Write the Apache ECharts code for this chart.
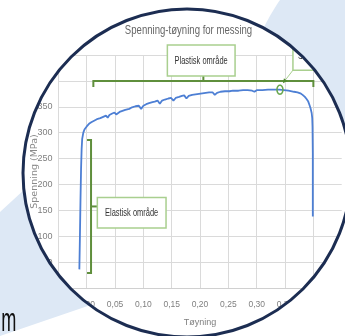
<!DOCTYPE html>
<html><head><meta charset="utf-8">
<script src="https://cdn.jsdelivr.net/npm/echarts@6.0.0/dist/echarts.min.js"></script>
<style>html,body{margin:0;padding:0;background:#fff}#c{width:345px;height:336px}</style>
</head><body><div id="c"></div>
<script>
// ---- data ----
const strain = [-0.013,-0.012,-0.011,-0.010,-0.009,-0.008,-0.006,-0.004,-0.002,0.000,0.004,0.008,0.013,0.018,0.024,0.030,0.034,0.037,0.040,0.045,0.049,0.052,0.058,0.063,0.068,0.071,0.075,0.080,0.086,0.092,0.096,0.100,0.105,0.110,0.116,0.120,0.125,0.129,0.133,0.138,0.144,0.149,0.153,0.157,0.163,0.168,0.172,0.176,0.180,0.186,0.192,0.198,0.204,0.210,0.216,0.222,0.226,0.230,0.236,0.244,0.252,0.258,0.262,0.268,0.276,0.284,0.292,0.296,0.300,0.310,0.320,0.330,0.340,0.348,0.356,0.366,0.372,0.377,0.381,0.385,0.388,0.391,0.393,0.395,0.397,0.398,0.3985,0.399,0.399,0.399];
const stress = [36,100,170,230,268,288,300,306,309,312,317,320,323,326,328,331,333,329,334,337,339,335,340,342,344,341,346,349,351,352,346,352,355,357,359,360,362,356,362,364,366,367,362,367,369,371,372,366,371,373,374,375,376,377,378,378,373,377,379,380,380,381,381,381,382,382,381,379,382,382,383,383,383,382,381,379,378,376,373,369,365,360,354,347,338,328,311,260,200,138];
const chartTitle = 'Spenning-tøyning for messing';
const xAxisName = 'Tøyning';
const yAxisName = 'Spenning (MPa)';
const xTickMin = -0.05, xTickMax = 0.45, xTickStep = 0.05;
const yTickMin = 0, yTickMax = 450, yTickStep = 50;
const plasticLabel = 'Plastisk område';
const elasticLabel = 'Elastisk område';
const peakLabel = 'Strekkfasthet';
const plasticRange = [0.0117, 0.40];
const plasticLevel = 400;
const elasticRange = [29, 286];
const elasticStrain = 0.0076;
const peakPoint = [0.341, 382];

// ---- styles ----
const SANS = '"Liberation Sans", Arial, sans-serif';
const GRID = '#dadada';
const LABEL = '#7f7f7f';
const BRACKET = '#5f8f3c';
const BOXLINE = '#a9cf8f';
const BLUEBG = '#dde8f5';
const NAVY = '#1c2d52';

const chart = echarts.init(document.getElementById('c'), null, {renderer: 'canvas'});
const pts = strain.map((s, i) => [s, stress[i]]);

chart.setOption({
  backgroundColor: '#fff',
  animation: false,
  grid: {left: 58.4, right: 3.3, top: 55, bottom: 48, containLabel: false, outerBoundsMode: 'none'},
  xAxis: {
    type: 'value', min: xTickMin, max: xTickMax, interval: xTickStep,
    name: xAxisName, nameLocation: 'middle', nameGap: 30, nameMoveOverlap: false,
    nameTextStyle: {fontFamily: SANS, fontSize: 9, color: LABEL},
    axisLine: {show: true, lineStyle: {color: '#d0d0d0', width: 1}},
    axisTick: {show: false},
    axisLabel: {fontFamily: SANS, fontSize: 8.5, color: LABEL, margin: 12,
      formatter: v => v.toFixed(2).replace('.', ',')},
    splitLine: {show: true, showMaxLine: false, lineStyle: {color: GRID, width: 1}}
  },
  yAxis: {
    type: 'value', min: yTickMin, max: yTickMax, interval: yTickStep,
    name: yAxisName, nameLocation: 'middle', nameGap: 19, nameMoveOverlap: false,
    nameTextStyle: {fontFamily: '"DejaVu Sans", sans-serif', fontSize: 9.5, color: '#8a8a8a'},
    axisLine: {show: false}, axisTick: {show: false},
    axisLabel: {fontFamily: SANS, fontSize: 9, color: LABEL, margin: 6},
    splitLine: {show: true, lineStyle: {color: GRID, width: 1}}
  },
  series: [{
    type: 'line', data: pts, showSymbol: false, symbol: 'none', smooth: false,
    lineStyle: {color: '#4d7fd4', width: 1.8}, z: 3
  }]
});

function px(x, y) { return chart.convertToPixel({gridIndex: 0}, [x, y]); }

const [pL, pY] = px(plasticRange[0], plasticLevel);
const [pR] = px(plasticRange[1], plasticLevel);
const pMid = (pL + pR) / 2;
const [eX, eTop] = px(elasticStrain, elasticRange[1]);
const [, eBot] = px(elasticStrain, elasticRange[0]);
const eMid = (eTop + eBot) / 2;
const [kX, kY] = px(peakPoint[0], peakPoint[1]);

// circle frame geometry (decoration)
const CX = 187, CY = 173, R = 164;
function arcPts(p1, p2, n) {
  let a1 = Math.atan2(p1[1] - CY, p1[0] - CX), a2 = Math.atan2(p2[1] - CY, p2[0] - CX);
  const out = [];
  for (let i = 0; i <= n; i++) {
    const a = a1 + (a2 - a1) * i / n;
    out.push([CX + R * Math.cos(a), CY + R * Math.sin(a)]);
  }
  return out;
}
function quadPts(p0, c, p1, n) {
  const out = [];
  for (let i = 0; i <= n; i++) {
    const t = i / n, u = 1 - t;
    out.push([u * u * p0[0] + 2 * u * t * c[0] + t * t * p1[0], u * u * p0[1] + 2 * u * t * c[1] + t * t * p1[1]]);
  }
  return out;
}
const blueTopRight = [[280, 0], [345, 0], ...arcPts([345, 129], [263.6, 28], 40), ...quadPts([263.6, 28], [271, 13], [280, 0], 10)];
const blueBottomLeft = [[0, 212], ...arcPts([23.9, 190], [90, 305.2], 40), [0, 336]];
const ellipsePts = [];
for (let i = 0; i < 28; i++) {
  const a = i / 28 * Math.PI * 2;
  ellipsePts.push([kX + 3 * Math.cos(a), kY - 0.5 + 4.5 * Math.sin(a)]);
}

// arrow from peak box to peak point
const tip = [kX + 3, kY - 7];
const tail = [kX + 13, kY - 20];
const dx = tip[0] - tail[0], dy = tip[1] - tail[1], dl = Math.hypot(dx, dy);
const ux = dx / dl, uy = dy / dl;
const bc = [tip[0] - 4.5 * ux, tip[1] - 4.5 * uy];
const arrowHead = [tip, [bc[0] - uy * 2.2, bc[1] + ux * 2.2], [bc[0] + uy * 2.2, bc[1] - ux * 2.2]];

function squeezedText(text, x, y, size, color, sx, align, z) {
  return {type: 'text', z: z || 12, x: x, y: y, scaleX: sx,
    style: {text: text, x: 0, y: 0, align: align || 'center', verticalAlign: 'middle',
      font: size + 'px ' + SANS, fill: color}};
}

chart.setOption({
  graphic: [
    // chart title
    squeezedText(chartTitle, 188.5, 30, 13.5, '#666', 0.71),
    // plastic bracket
    {type: 'polyline', z: 10, shape: {points: [[pL, pY + 6], [pL, pY], [pR, pY], [pR, pY + 6]]},
      style: {stroke: BRACKET, lineWidth: 2, fill: null}},
    {type: 'line', z: 10, shape: {x1: pMid, y1: pY, x2: pMid, y2: pY - 5}, style: {stroke: BRACKET, lineWidth: 2}},
    {type: 'rect', z: 11, shape: {x: pMid - 36, y: pY - 36, width: 67.7, height: 31},
      style: {fill: '#fff', stroke: BOXLINE, lineWidth: 1.5}},
    squeezedText(plasticLabel, pMid - 2.2, pY - 19.5, 11, '#333', 0.68),
    // elastic bracket
    {type: 'polyline', z: 10, shape: {points: [[eX - 4, eTop], [eX, eTop], [eX, eBot], [eX - 4, eBot]]},
      style: {stroke: BRACKET, lineWidth: 2, fill: null}},
    {type: 'line', z: 10, shape: {x1: eX, y1: eMid, x2: eX + 6.3, y2: eMid}, style: {stroke: BRACKET, lineWidth: 2}},
    {type: 'rect', z: 11, shape: {x: eX + 6.3, y: eMid - 9, width: 68.7, height: 30.6},
      style: {fill: '#fff', stroke: BOXLINE, lineWidth: 1.5}},
    squeezedText(elasticLabel, eX + 6.3 + 34.3, eMid + 6.5, 11, '#333', 0.68),
    // peak marker
    {type: 'polygon', z: 10, shape: {points: ellipsePts}, style: {stroke: '#6aa84f', lineWidth: 1.5, fill: null}},
    {type: 'line', z: 10, shape: {x1: tail[0], y1: tail[1], x2: bc[0], y2: bc[1]}, style: {stroke: BOXLINE, lineWidth: 1}},
    {type: 'polygon', z: 10, shape: {points: arrowHead}, style: {fill: '#4f8a2f'}},
    {type: 'rect', z: 11, shape: {x: tail[0], y: tail[1] - 31, width: 70, height: 31},
      style: {fill: '#fff', stroke: BOXLINE, lineWidth: 1.5}},
    squeezedText(peakLabel, tail[0] + 5, tail[1] - 14, 11, '#333', 0.68, 'left'),
    // white cover outside the circle
    {type: 'circle', z: 100, silent: true, shape: {cx: CX, cy: CY, r: R + 200},
      style: {fill: null, stroke: '#fff', lineWidth: 400}},
    // light blue background shapes
    {type: 'polygon', z: 101, silent: true, shape: {points: blueTopRight}, style: {fill: BLUEBG}},
    {type: 'polygon', z: 101, silent: true, shape: {points: blueBottomLeft}, style: {fill: BLUEBG}},
    // circle frame
    {type: 'circle', z: 102, silent: true, shape: {cx: CX, cy: CY, r: R},
      style: {fill: null, stroke: NAVY, lineWidth: 3}},
    // cropped slide text
    squeezedText('m', 16.3, 321.6, 33, '#111', 0.55, 'right', 103)
  ]
});
</script></body></html>
